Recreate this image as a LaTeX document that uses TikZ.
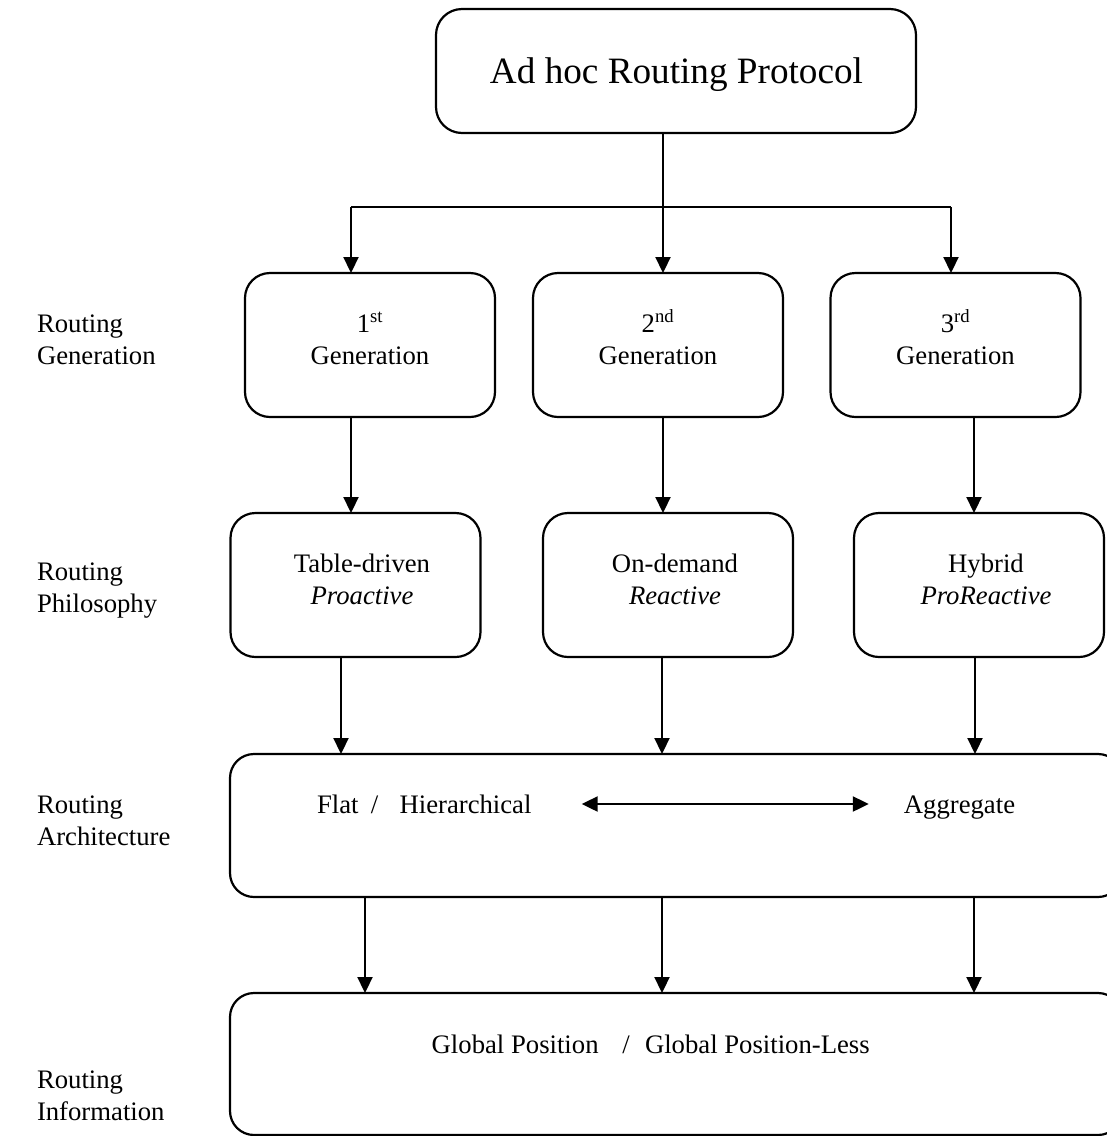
\documentclass[tikz,border=0pt]{standalone}
\usepackage{fontspec}
\setmainfont{Liberation Serif}
\usetikzlibrary{arrows.meta}
% two stacked lines, baseline on the first one
\newcommand{\stackc}[1]{\begin{tabular}[t]{@{}c@{}}#1\end{tabular}}
\newcommand{\stackl}[1]{\begin{tabular}[t]{@{}l@{}}#1\end{tabular}}
\begin{document}
\begin{tikzpicture}[x=1pt,y=-1pt,
  box/.style={draw, line width=2.2pt, rounded corners=25pt, minimum width=250pt,
    minimum height=144pt, inner sep=0pt, outer sep=0pt},
  wide/.style={box, rounded corners=24pt, minimum width=892pt, minimum height=143pt},
  txt/.style={font=\fontsize{26.7}{32}\selectfont, inner sep=0pt, outer sep=0pt, anchor=base},
  lbl/.style={txt, anchor=base west},
  arr/.style={line width=2.2pt, -{Triangle[length=16pt,width=15pt]}},
  link/.style={line width=2.2pt}]
\clip (0,0) rectangle (1107,1136);

% boxes
\node[box, rounded corners=26pt, minimum width=480pt, minimum height=124pt] (top) at (676,71) {};
\node[box] (g1) at (370,345) {};
\node[box] (g2) at (658,345) {};
\node[box] (g3) at (955.5,345) {};
\node[box] (p1) at (355.5,585) {};
\node[box] (p2) at (668,585) {};
\node[box] (p3) at (979,585) {};
\node[wide] (arch) at (676,825.5) {};
\node[wide, minimum height=142pt] (info) at (676,1064) {};

% texts inside the boxes
\node[txt, font=\fontsize{37.2}{44}\selectfont] (ttl) at (676.5,83) {Ad hoc Routing Protocol};
\node[txt] (g1t) at (370,332) {\stackc{1\textsuperscript{st}\\Generation}};
\node[txt] (g2t) at (658,332) {\stackc{2\textsuperscript{nd}\\Generation}};
\node[txt] (g3t) at (955.5,332) {\stackc{3\textsuperscript{rd}\\Generation}};
\node[txt] (p1t) at (362,572) {\stackc{Table-driven\\\textit{Proactive}}};
\node[txt] (p2t) at (675,572) {\stackc{On-demand\\\textit{Reactive}}};
\node[txt] (p3t) at (986,572) {\stackc{Hybrid\\\textit{ProReactive}}};
\node[lbl] (flat) at (317,813) {Flat\hspace{12.3pt}/\hspace{21.3pt}Hierarchical};
\node[txt] (aggr) at (959.5,813) {Aggregate};
\node[lbl] (glob) at (431.7,1053) {Global Position\hspace{23.7pt}/\hspace{15.3pt}Global Position-Less};

% level labels on the left
\node[lbl] (lgen) at (37,332) {\stackl{Routing\\Generation}};
\node[lbl] (lphi) at (37,580) {\stackl{Routing\\Philosophy}};
\node[lbl] (larc) at (37,813) {\stackl{Routing\\Architecture}};
\node[lbl] (linf) at (37,1088) {\stackl{Routing\\Information}};

% column positions of the connectors
\coordinate (hub) at (663,207);
\coordinate (hl) at (351,207);
\coordinate (hr) at (951,207);
\coordinate (a1) at (351,0);
\coordinate (a2) at (663,0);
\coordinate (a3) at (974,0);
\coordinate (b1) at (341,0);
\coordinate (b2) at (662,0);
\coordinate (b3) at (975,0);
\coordinate (c1) at (365,0);
\coordinate (c2) at (662,0);
\coordinate (c3) at (974,0);
\coordinate (dl) at (581.7,804);
\coordinate (dr) at (868.8,804);

% root to generations
\draw[link] (top.south -| hub) -- (hub);
\draw[link] (hl) -- (hr);
\draw[arr] (hl) -- (g1.north -| hl);
\draw[arr] (hub) -- (g2.north -| hub);
\draw[arr] (hr) -- (g3.north -| hr);

% generations to philosophies
\draw[arr] (g1.south -| a1) -- (p1.north -| a1);
\draw[arr] (g2.south -| a2) -- (p2.north -| a2);
\draw[arr] (g3.south -| a3) -- (p3.north -| a3);

% philosophies to architecture
\draw[arr] (p1.south -| b1) -- (arch.north -| b1);
\draw[arr] (p2.south -| b2) -- (arch.north -| b2);
\draw[arr] (p3.south -| b3) -- (arch.north -| b3);

% architecture to information
\draw[arr] (arch.south -| c1) -- (info.north -| c1);
\draw[arr] (arch.south -| c2) -- (info.north -| c2);
\draw[arr] (arch.south -| c3) -- (info.north -| c3);

% flat/hierarchical <-> aggregate
\draw[line width=2.2pt, {Triangle[length=16pt,width=15pt]}-{Triangle[length=16pt,width=15pt]}] (dl) -- (dr);
\end{tikzpicture}
\end{document}
